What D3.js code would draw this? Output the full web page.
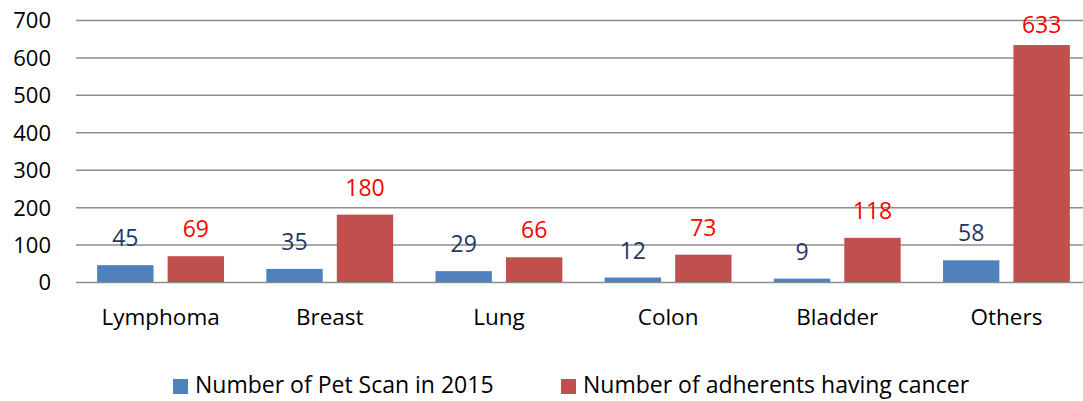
<!DOCTYPE html>
<html>
<head>
<meta charset="utf-8">
<script src="https://cdn.jsdelivr.net/npm/d3@7"></script>
<style>
  body { margin: 0; background: #fff; }
  svg { display: block; font-family: "Open Sans", Lato, sans-serif; }
</style>
</head>
<body>
<svg id="chart" width="1083" height="401"></svg>
<script>
let categories = ["Lymphoma", "Breast", "Lung", "Colon", "Bladder", "Others"]
let petScans = [45, 35, 29, 12, 9, 58]
let adherents = [69, 180, 66, 73, 118, 633]
let seriesNames = ["Number of Pet Scan in 2015", "Number of adherents having cancer"]
let yTicks = [0, 100, 200, 300, 400, 500, 600, 700]

let colors = ["#4F81BD", "#C0504D"]
let labelColors = ["#1F3864", "#FF0000"]

let svg = d3.select("#chart")
let plotLeft = 76, plotRight = 1091, plotTop = 20, plotBottom = 282

let x0 = d3.scaleBand().domain(categories).range([plotLeft, plotRight]).paddingInner(0).paddingOuter(0)
let x1 = d3.scaleBand().domain([0, 1]).range([0, x0.bandwidth()]).paddingInner(0.2).paddingOuter(0.3)
let y = d3.scaleLinear().domain([0, 700]).range([plotBottom, plotTop])

// gridlines
svg.append("g")
  .selectAll("line")
  .data(yTicks)
  .enter()
  .append("line")
  .attr("x1", plotLeft)
  .attr("x2", 1083)
  .attr("y1", d => y(d) + 0.5)
  .attr("y2", d => y(d) + 0.5)
  .attr("stroke", "#8c8c8c")
  .attr("stroke-width", 1.5)

// y axis labels
let yAxis = d3.axisLeft(y).tickValues(yTicks).tickSize(0).tickPadding(0)
svg.append("g")
  .attr("transform", "translate(51,0)")
  .call(yAxis)
  .call(g => g.select(".domain").remove())
  .selectAll("text")
  .attr("font-size", 22)
  .attr("font-family", "'Open Sans', Lato, sans-serif")
  .attr("fill", "#000")
  .attr("dy", "0.36em")

let rows = categories.map((c, i) => ({ cat: c, vals: [petScans[i], adherents[i]] }))

let groups = svg.append("g")
  .selectAll("g")
  .data(rows)
  .enter()
  .append("g")
  .attr("transform", d => "translate(" + x0(d.cat) + ",0)")

groups.selectAll("rect")
  .data(d => d.vals.map((v, k) => ({ v: v, k: k })))
  .enter()
  .append("rect")
  .attr("x", d => x1(d.k))
  .attr("width", x1.bandwidth())
  .attr("y", d => y(d.v))
  .attr("height", d => plotBottom - y(d.v))
  .attr("fill", d => colors[d.k])

groups.selectAll("text")
  .data(d => d.vals.map((v, k) => ({ v: v, k: k })))
  .enter()
  .append("text")
  .attr("x", d => x1(d.k) + x1.bandwidth() / 2)
  .attr("y", d => Math.max(y(d.v) - 19, 33))
  .attr("text-anchor", "middle")
  .attr("font-size", 23)
  .attr("fill", d => labelColors[d.k])
  .text(d => d.v)

// category labels
let xAxis = d3.axisBottom(x0).tickSize(0).tickPadding(0)
svg.append("g")
  .attr("transform", "translate(0,325)")
  .call(xAxis)
  .call(g => g.select(".domain").remove())
  .selectAll("text")
  .attr("font-size", 22.5)
  .attr("font-family", "'Open Sans', Lato, sans-serif")
  .attr("fill", "#000")
  .attr("dy", 0)

// legend
let legendX = [173, 561]
let legend = svg.append("g")
  .selectAll("g")
  .data(seriesNames)
  .enter()
  .append("g")
  .attr("transform", (d, i) => "translate(" + legendX[i] + ",379)")
legend.append("rect")
  .attr("width", 15)
  .attr("height", 15)
  .attr("fill", (d, i) => colors[i])
legend.append("text")
  .attr("x", 22)
  .attr("y", 14)
  .attr("font-size", 23)
  .attr("fill", "#000")
  .text(d => d)
</script>
</body>
</html>
